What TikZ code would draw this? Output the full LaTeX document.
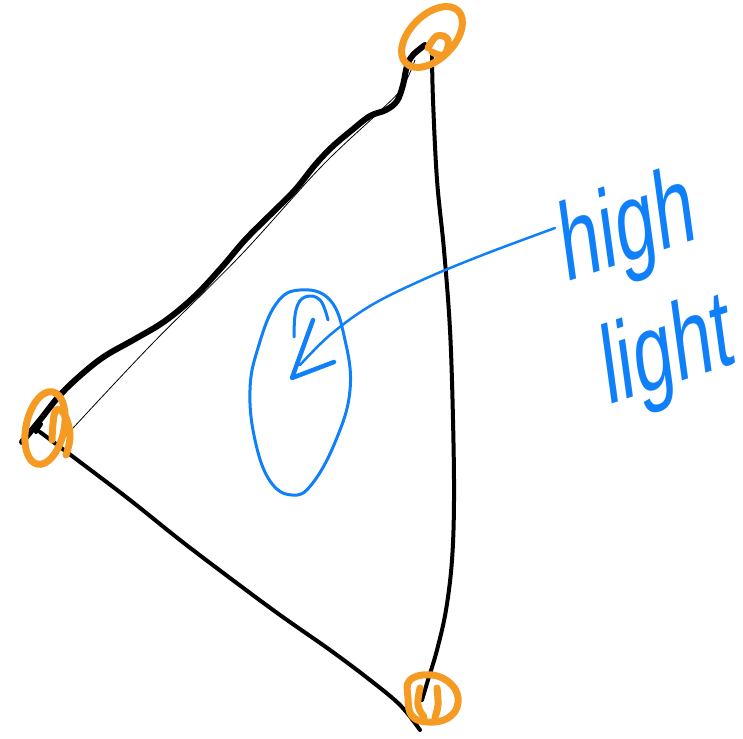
\documentclass[tikz,border=0pt]{standalone}
\usepackage{fontspec}
\setmainfont{Liberation Sans}
\definecolor{hlorange}{RGB}{245,155,35}
\definecolor{hlblue}{RGB}{15,128,250}
\tikzset{
  pen/.style={line cap=round,line join=round},
  thickpen/.style={pen,black,line width=6pt},
  midpen/.style={pen,black,line width=4pt},
  thinpen/.style={pen,black,line width=0.8pt},
  orangepen/.style={pen,hlorange,line width=7pt},
  bluepen/.style={pen,hlblue,line width=3pt},
  handtext/.style={text=hlblue,font=\fontsize{72}{72}\selectfont,inner sep=0pt,yscale=1.55,rotate=12}
}
\begin{document}
\begin{tikzpicture}[x=1pt,y=-1pt]
\useasboundingbox (0,0) rectangle (743,738);
% vertices
\coordinate (A) at (22,442);
\coordinate (A2) at (40,432);
\coordinate (A3) at (62,440);
\coordinate (B) at (425,45);
\coordinate (B2) at (432,55);
\coordinate (B3) at (415,60);
\coordinate (C) at (422,700);
\coordinate (C2) at (420,730);
% thick wavy edge (left to top)
\draw[thickpen] plot[smooth,tension=0.6] coordinates {(A) (40,420) (60,395) (82,374) (105,356) (135,339) (165,321) (195,296) (222,267) (245,240) (270,215) (295,190) (315,165) (332,147) (352,130) (370,116) (386,110) (397,101) (403,85) (407,66) (413,55) (B)};
% thin edge
\draw[thinpen] plot[smooth,tension=0.6] coordinates {(A3) (150,346) (240,256) (320,168) (378,113) (402,88) (B3)};
% right edge
\draw[midpen] plot[smooth,tension=0.6] coordinates {(B2) (433,100) (437,180) (444,250) (450,330) (453,420) (454,500) (452,560) (446,610) (437,650) (428,680) (C)};
% bottom-left edge
\draw[midpen] plot[smooth,tension=0.6] coordinates {(A2) (80,462) (130,500) (180,540) (230,578) (280,615) (330,650) (370,680) (400,705) (C2)};
% small tick at left vertex
\draw[thickpen,line width=4pt] (36,432) -- (41,424);
% orange vertex marks
\draw[orangepen,rotate around={-12:(45,428)}] (45,428) ellipse (19 and 37);
\draw[orangepen] plot[smooth,tension=0.7] coordinates {(52,440) (55,412) (64,414) (70,435) (66,455)};
\draw[orangepen,rotate around={45:(432,37)}] (432,37) ellipse (37 and 22);
\draw[orangepen] plot[smooth,tension=0.7] coordinates {(428,48) (437,36) (448,40) (444,55) (432,52)};
\draw[orangepen] plot[smooth cycle,tension=0.7] coordinates {(410,680) (432,675) (452,685) (458,703) (448,718) (428,722) (412,716) (408,698)};
\draw[orangepen] plot[smooth,tension=0.7] coordinates {(420,688) (418,705) (424,717)};
\draw[orangepen] plot[smooth,tension=0.7] coordinates {(437,688) (438,705) (435,717)};
% blue highlight
\node[handtext] (high) at (628,232) {high};
\node[handtext] (light) at (668,356) {light};
\coordinate (E) at (300,365);
\draw[bluepen] plot[smooth cycle,tension=0.7] coordinates {(300,290) (330,300) (345,340) (350,390) (336,440) (312,484) (292,495) (270,481) (255,440) (250,390) (258,348) (276,304)};
\draw[bluepen] plot[smooth,tension=0.7] coordinates {(294,337) (296,310) (305,297) (320,300) (328,320)};
\draw[bluepen,line width=2.5pt] plot[smooth,tension=0.6] coordinates {(555,228) (480,256) (420,281) (370,306) (330,335) (E)};
\draw[bluepen,line width=4.5pt] (313,320) -- (292,378) -- (334,362);
\end{tikzpicture}
\end{document}
